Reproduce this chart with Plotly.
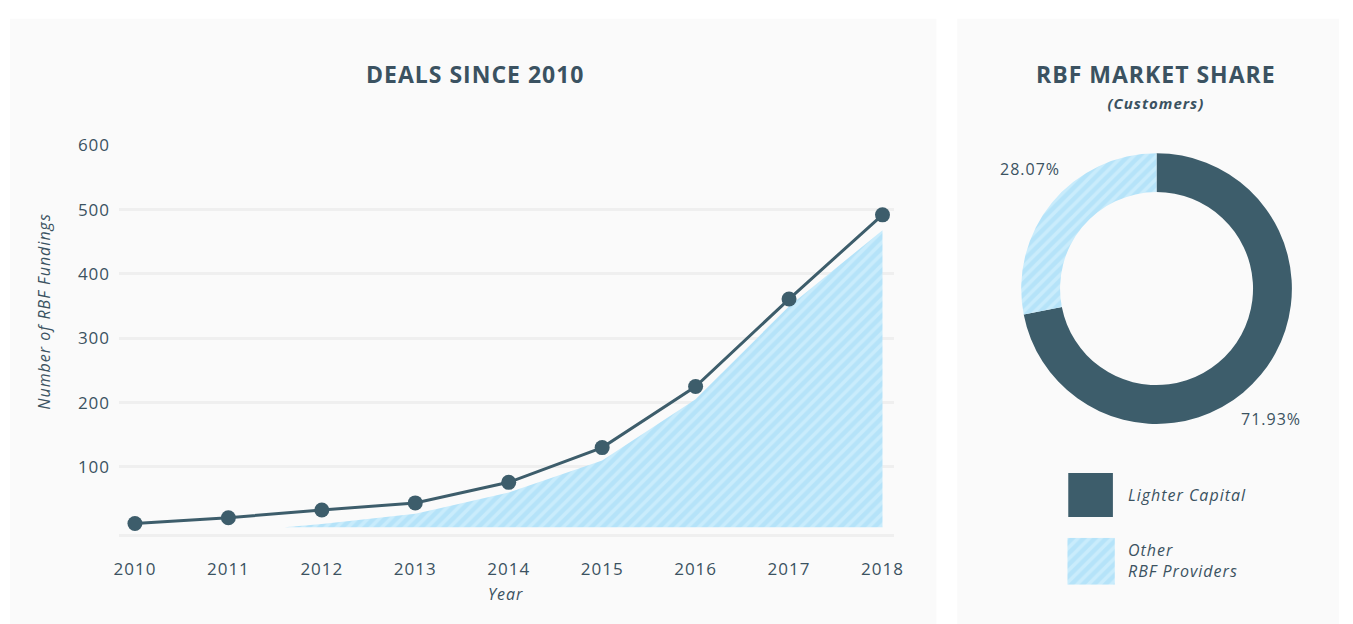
import plotly.graph_objects as go

# ---------------- data ----------------
YEARS = [2010, 2011, 2012, 2013, 2014, 2015, 2016, 2017, 2018]
LIGHTER_DEALS = [12, 21, 33, 44, 76, 130, 225, 361, 492]

AREA_X = [2011.6, 2012, 2013, 2014, 2015, 2016, 2017, 2018]
AREA_Y = [6, 11, 27, 60, 110, 205, 350, 468]
AREA_BASE = 6

Y_TICKS = [100, 200, 300, 400, 500, 600]

SHARE_LABELS = ["Lighter Capital", "Other RBF Providers"]
SHARE_VALUES = [71.93, 28.07]

# ---------------- styles ----------------
W, H = 1353, 624
FONT = "Open Sans"
DARK = "#3d5d6b"
TEXT = "#3b5261"
LIGHT_BG = "#b5e3f9"
LIGHT_FG = "#c9ecfc"
PANEL = "#fafafa"
GRID = "#efefef"


def px(x):
    return x / W


def py(y):
    return 1 - y / H


fig = go.Figure()

# area (other providers), polygon closed along a baseline
poly_x = AREA_X + AREA_X[::-1]
poly_y = AREA_Y + [AREA_BASE] * len(AREA_X)
fig.add_trace(go.Scatter(
    x=poly_x, y=poly_y, mode="lines", fill="toself",
    line=dict(width=0, color=LIGHT_BG),
    fillcolor=LIGHT_BG,
    fillpattern=dict(shape="/", bgcolor=LIGHT_BG, fgcolor=LIGHT_FG,
                     size=8, solidity=0.45, fillmode="replace"),
    hoverinfo="skip", showlegend=False,
))

# line with markers
fig.add_trace(go.Scatter(
    x=YEARS, y=LIGHTER_DEALS, mode="lines+markers",
    line=dict(color=DARK, width=3),
    marker=dict(color=DARK, size=15),
    showlegend=False,
))

# donut
fig.add_trace(go.Pie(
    labels=SHARE_LABELS, values=SHARE_VALUES,
    hole=0.713, sort=False, direction="clockwise", rotation=0,
    textinfo="none", showlegend=False,
    marker=dict(
        colors=[DARK, LIGHT_BG],
        line=dict(width=0),
        pattern=dict(shape=["", "/"], bgcolor=[DARK, LIGHT_BG],
                     fgcolor=[DARK, LIGHT_FG], size=8, solidity=0.45,
                     fillmode="replace"),
    ),
    domain=dict(x=[px(1025), px(1301)], y=[py(420), py(144)]),
))

# legend swatch (hatched) drawn in its own hidden unit axes
fig.add_trace(go.Scatter(
    x=[0, 1, 1, 0, 0], y=[0, 0, 1, 1, 0], mode="lines", fill="toself",
    line=dict(width=0, color=LIGHT_BG), fillcolor=LIGHT_BG,
    fillpattern=dict(shape="/", bgcolor=LIGHT_BG, fgcolor=LIGHT_FG,
                     size=8, solidity=0.45, fillmode="replace"),
    xaxis="x2", yaxis="y2", hoverinfo="skip", showlegend=False,
))

shapes = [
    dict(type="rect", xref="paper", yref="paper", x0=px(7), x1=px(941),
         y0=0, y1=py(7), fillcolor=PANEL, line=dict(width=0), layer="below"),
    dict(type="rect", xref="paper", yref="paper", x0=px(962), x1=px(1347),
         y0=0, y1=py(7), fillcolor=PANEL, line=dict(width=0), layer="below"),
    dict(type="rect", xref="paper", yref="paper", x0=px(1074), x1=px(1119),
         y0=py(515), y1=py(470), fillcolor=DARK, line=dict(width=0)),
]

annotations = [
    dict(text="DEALS SINCE 2010", x=px(476), y=py(63), xref="paper", yref="paper",
         showarrow=False, font=dict(family=FONT, size=23, color=TEXT, weight="bold"),
         xanchor="center", yanchor="middle"),
    dict(text="RBF MARKET SHARE", x=px(1162), y=py(63), xref="paper", yref="paper",
         showarrow=False, font=dict(family=FONT, size=23, color=TEXT, weight="bold"),
         xanchor="center", yanchor="middle"),
    dict(text="<i>(Customers)</i>", x=px(1162), y=py(93), xref="paper", yref="paper",
         showarrow=False, font=dict(family=FONT, size=15, color=TEXT, weight="bold"),
         xanchor="center", yanchor="middle"),
    dict(text="<i>Number of RBF Fundings</i>", x=px(41), y=py(305), xref="paper",
         yref="paper", showarrow=False, textangle=-90,
         font=dict(family=FONT, size=16, color=TEXT), xanchor="center", yanchor="middle"),
    dict(text="<i>Year</i>", x=px(507), y=py(593), xref="paper", yref="paper",
         showarrow=False, font=dict(family=FONT, size=16, color=TEXT),
         xanchor="center", yanchor="middle"),
    dict(text=f"{SHARE_VALUES[1]:.2f}%", x=px(1035), y=py(160), xref="paper",
         yref="paper", showarrow=False, font=dict(family=FONT, size=16, color=TEXT),
         xanchor="center", yanchor="middle"),
    dict(text=f"{SHARE_VALUES[0]:.2f}%", x=px(1278), y=py(415), xref="paper",
         yref="paper", showarrow=False, font=dict(family=FONT, size=16, color=TEXT),
         xanchor="center", yanchor="middle"),
    dict(text="<i>Lighter Capital</i>", x=px(1132), y=py(492), xref="paper",
         yref="paper", showarrow=False, font=dict(family=FONT, size=16, color=TEXT),
         xanchor="left", yanchor="middle", align="left"),
    dict(text="<i>Other<br>RBF Providers</i>", x=px(1132), y=py(559), xref="paper",
         yref="paper", showarrow=False, font=dict(family=FONT, size=16, color=TEXT),
         xanchor="left", yanchor="middle", align="left"),
]

fig.update_layout(
    width=W, height=H,
    margin=dict(l=0, r=0, t=0, b=0),
    paper_bgcolor="white", plot_bgcolor="rgba(0,0,0,0)",
    font=dict(family=FONT, color=TEXT),
    shapes=shapes, annotations=annotations,
    xaxis=dict(
        domain=[px(117), px(898)], range=[2009.83, 2018.12],
        tickvals=YEARS, ticktext=[str(y) for y in YEARS],
        showgrid=False, zeroline=False,
        showline=True, linecolor=GRID, linewidth=3,
        ticks="", ticklabelstandoff=18,
        tickfont=dict(family=FONT, size=17, color=TEXT),
        fixedrange=True,
    ),
    yaxis=dict(
        domain=[py(532), py(136)], range=[-4, 600],
        tickvals=Y_TICKS, showgrid=True, gridcolor=GRID, gridwidth=3,
        zeroline=False, showline=False, ticks="", ticklabelstandoff=8,
        tickfont=dict(family=FONT, size=17, color=TEXT),
        fixedrange=True,
    ),
    xaxis2=dict(domain=[px(1073), px(1121)], range=[0, 1], visible=False,
                anchor="y2", fixedrange=True),
    yaxis2=dict(domain=[py(584), py(536)], range=[0, 1], visible=False,
                anchor="x2", fixedrange=True),
)

POST = ("document.body.style.margin='0';"
        "document.body.style.overflow='hidden';"
        "document.documentElement.style.overflow='hidden';"
        "document.querySelectorAll('#{plot_id} svg text').forEach(function(t){"
        "t.style.letterSpacing='1px';});")

fig.write_html("out.html", post_script=POST, config={"displayModeBar": False})
